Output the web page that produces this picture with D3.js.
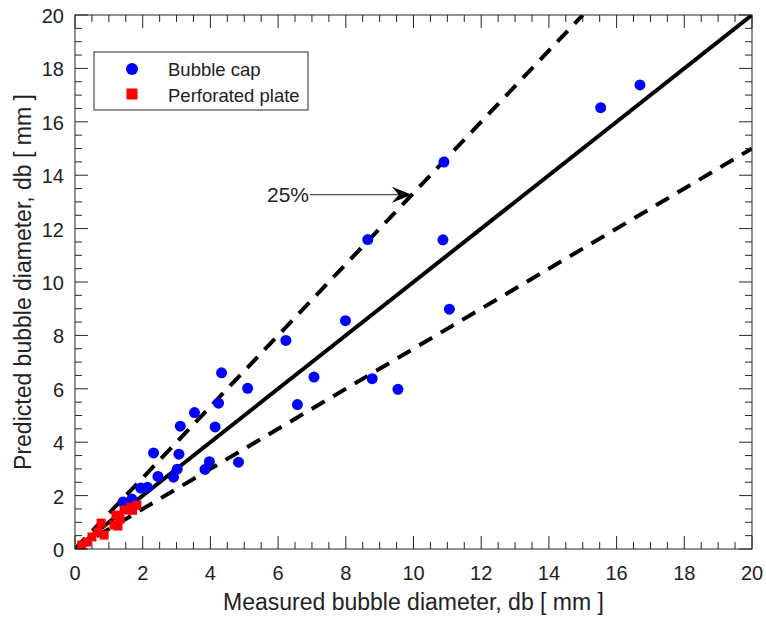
<!DOCTYPE html>
<html lang="en">
  <head>
    <meta charset="UTF-8" />
    <title>Predicted vs measured bubble diameter</title>
    <script src="https://d3js.org/d3.v7.min.js"></script>
    <style>
      body { margin: 0; background: #fff; }
      text { font-family: "Liberation Sans", Arial, sans-serif; fill: #222; }
    </style>
  </head>
  <body>
    <div id="chart"></div>
    <script>
      // bubble cap points [measured, predicted]
      var bubbleCap = [
        [16.69, 17.38], [15.53, 16.53], [10.9, 14.49], [8.65, 11.59],
        [10.87, 11.58], [11.06, 8.98], [7.99, 8.55], [6.23, 7.81],
        [7.06, 6.44], [8.78, 6.38], [9.54, 5.98], [6.57, 5.41],
        [5.1, 6.02], [4.33, 6.6], [4.24, 5.46], [4.14, 4.57],
        [3.53, 5.11], [3.11, 4.6], [3.07, 3.55], [3.97, 3.27],
        [4.83, 3.25], [3.84, 2.98], [3.02, 2.99], [2.32, 3.6],
        [2.45, 2.72], [2.91, 2.69], [1.94, 2.28], [2.14, 2.31],
        [1.68, 1.87], [1.42, 1.76]
      ];
      var perforatedPlate = [
        [1.83, 1.64], [1.65, 1.57], [1.45, 1.46], [1.21, 1.27],
        [1.33, 1.12], [1.15, 0.9], [1.27, 0.86], [0.77, 0.97],
        [0.68, 0.64], [0.86, 0.52], [0.5, 0.45], [0.35, 0.26],
        [0.2, 0.15], [1.7, 1.45]
      ];
      var tickValues = [0, 2, 4, 6, 8, 10, 12, 14, 16, 18, 20];
      var minorTicks = d3.range(0, 20.01, 0.5);
      // reference lines: y = x and +/-25% bands
      var refLines = [
        { slope: 1, dashed: false },
        { slope: 1 / 0.75, dashed: true },
        { slope: 0.75, dashed: true }
      ];
      var legendItems = ["Bubble cap", "Perforated plate"];

      var W = 766, H = 617;
      var margin = { left: 75, right: 14, top: 15, bottom: 68 };

      var svg = d3.select("#chart").append("svg")
        .attr("width", W).attr("height", H);

      var x = d3.scaleLinear().domain([0, 20]).range([margin.left, W - margin.right]);
      var y = d3.scaleLinear().domain([0, 20]).range([H - margin.bottom, margin.top]);

      var x0 = x(0), x1 = x(20), y0 = y(0), y1 = y(20);

      // clip for reference lines
      svg.append("clipPath").attr("id", "plotclip")
        .append("rect").attr("x", x0).attr("y", y1)
        .attr("width", x1 - x0).attr("height", y0 - y1);

      var lines = svg.append("g").attr("clip-path", "url(#plotclip)");
      refLines.forEach(function (l) {
        var xe = Math.min(20, 20 / l.slope);
        lines.append("line")
          .attr("x1", x(0)).attr("y1", y(0))
          .attr("x2", x(xe)).attr("y2", y(xe * l.slope))
          .attr("stroke", "#000")
          .attr("stroke-width", 4)
          .attr("stroke-dasharray", l.dashed ? "15,10" : null);
      });

      // points
      svg.append("g").selectAll("circle").data(bubbleCap).enter()
        .append("circle")
        .attr("cx", function (d) { return x(d[0]); })
        .attr("cy", function (d) { return y(d[1]); })
        .attr("r", 5.5)
        .attr("fill", "#0000ff");

      svg.append("g").selectAll("rect").data(perforatedPlate).enter()
        .append("rect")
        .attr("x", function (d) { return x(d[0]) - 4.5; })
        .attr("y", function (d) { return y(d[1]) - 4.5; })
        .attr("width", 9).attr("height", 9)
        .attr("fill", "#ff0000");

      // frame and ticks
      var axisColor = "#262626";
      svg.append("rect")
        .attr("x", x0).attr("y", y1)
        .attr("width", x1 - x0).attr("height", y0 - y1)
        .attr("fill", "none").attr("stroke", axisColor).attr("stroke-width", 1);

      var ticks = svg.append("g").attr("stroke", axisColor).attr("stroke-width", 1);
      minorTicks.forEach(function (v) {
        var len = v % 2 === 0 ? 13 : 7;
        ticks.append("line").attr("x1", x(v)).attr("x2", x(v)).attr("y1", y0).attr("y2", y0 - len);
        ticks.append("line").attr("x1", x(v)).attr("x2", x(v)).attr("y1", y1).attr("y2", y1 + len);
        ticks.append("line").attr("y1", y(v)).attr("y2", y(v)).attr("x1", x0).attr("x2", x0 + len);
        ticks.append("line").attr("y1", y(v)).attr("y2", y(v)).attr("x1", x1).attr("x2", x1 - len);
      });

      svg.append("g").selectAll("text").data(tickValues).enter()
        .append("text")
        .attr("x", function (d) { return x(d); })
        .attr("y", y0 + 31)
        .attr("text-anchor", "middle")
        .attr("font-size", 20)
        .text(function (d) { return d; });

      svg.append("g").selectAll("text").data(tickValues).enter()
        .append("text")
        .attr("x", x0 - 11)
        .attr("y", function (d) { return y(d) + 8; })
        .attr("text-anchor", "end")
        .attr("font-size", 20)
        .text(function (d) { return d; });

      // axis titles
      svg.append("text")
        .attr("x", (x0 + x1) / 2).attr("y", 610)
        .attr("text-anchor", "middle").attr("font-size", 23)
        .text("Measured bubble diameter, db [ mm ]");

      svg.append("text")
        .attr("transform", "translate(31," + (y0 + y1) / 2 + ") rotate(-90)")
        .attr("text-anchor", "middle").attr("font-size", 23)
        .text("Predicted bubble diameter, db [ mm ]");

      // 25% annotation with arrow
      var ax = 9.95, ay = 13.27;
      var tipX = x(ax), tipY = y(ay);
      svg.append("line")
        .attr("x1", 310).attr("y1", tipY).attr("x2", tipX - 12).attr("y2", tipY)
        .attr("stroke", "#222").attr("stroke-width", 1);
      svg.append("path")
        .attr("d", "M" + tipX + "," + tipY +
          " L" + (tipX - 20) + "," + (tipY - 8) +
          " L" + (tipX - 13) + "," + tipY +
          " L" + (tipX - 20) + "," + (tipY + 8) + " Z")
        .attr("fill", "#000");
      svg.append("text")
        .attr("x", 267).attr("y", tipY + 7)
        .attr("font-size", 21)
        .text("25%");

      // legend
      var lg = svg.append("g");
      lg.append("rect")
        .attr("x", 94).attr("y", 52).attr("width", 214).attr("height", 58)
        .attr("fill", "#fff").attr("stroke", axisColor).attr("stroke-width", 1);
      lg.append("circle").attr("cx", 132).attr("cy", 69).attr("r", 6).attr("fill", "#0000ff");
      lg.append("rect").attr("x", 126.5).attr("y", 88.5).attr("width", 11).attr("height", 11).attr("fill", "#ff0000");
      lg.selectAll("text.leg").data(legendItems).enter()
        .append("text")
        .attr("class", "leg")
        .attr("x", 168)
        .attr("y", function (d, i) { return 76 + i * 25.5; })
        .attr("font-size", 18.5)
        .text(function (d) { return d; });
    </script>
  </body>
</html>
